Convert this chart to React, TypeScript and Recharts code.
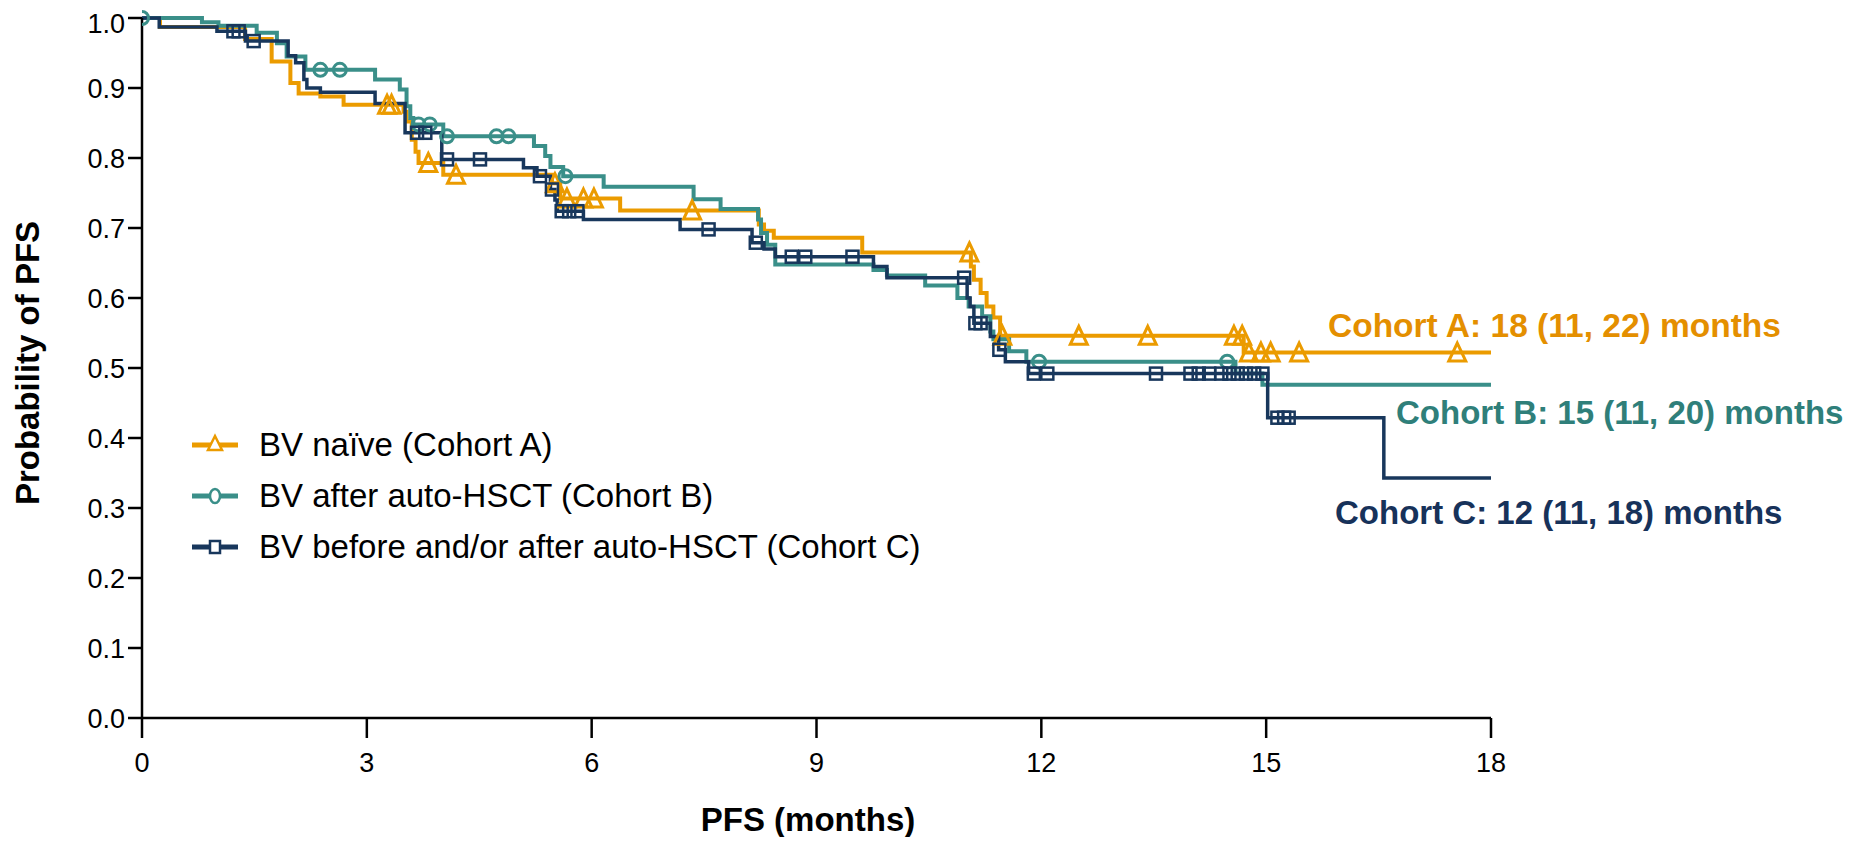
import React from 'react';
import { ComposedChart, Line, Scatter, XAxis, YAxis } from 'recharts';

// Kaplan-Meier steps (months, probability of PFS)
const cohortATimes = [0, 0.24, 1.375, 1.73, 1.98, 2.09, 2.38, 2.69, 3.49, 3.53, 3.6, 3.65, 3.69, 4.02, 5.47, 5.58, 6.38, 8.23, 8.3, 8.43, 9.61, 11.06, 11.1, 11.19, 11.27, 11.36, 11.45, 14.7, 18];
const cohortASurv = [1, 0.987, 0.97, 0.938, 0.907, 0.892, 0.888, 0.876, 0.866, 0.852, 0.826, 0.809, 0.793, 0.776, 0.764, 0.742, 0.725, 0.705, 0.696, 0.686, 0.665, 0.645, 0.626, 0.607, 0.588, 0.572, 0.546, 0.522, 0.522];
const cohortACensored = [3.27, 3.33, 3.82, 4.19, 5.51, 5.67, 5.89, 6.03, 7.34, 11.04, 11.48, 12.5, 13.42, 14.57, 14.68, 14.77, 14.93, 15.06, 15.44, 17.55];

const cohortBTimes = [0, 0.8, 1.02, 1.53, 1.8, 1.93, 2.18, 3.11, 3.44, 3.53, 3.58, 3.62, 4.02, 5.23, 5.38, 5.45, 5.62, 6.16, 7.36, 7.72, 8.22, 8.26, 8.34, 8.45, 9.76, 9.94, 10.45, 10.88, 11.03, 11.21, 11.32, 11.36, 11.57, 11.8, 14.59, 14.95, 18];
const cohortBSurv = [1, 0.994, 0.989, 0.979, 0.964, 0.945, 0.926, 0.912, 0.898, 0.874, 0.857, 0.848, 0.831, 0.817, 0.803, 0.787, 0.774, 0.759, 0.741, 0.727, 0.712, 0.693, 0.676, 0.648, 0.64, 0.632, 0.618, 0.6, 0.588, 0.574, 0.552, 0.541, 0.524, 0.509, 0.492, 0.476, 0.476];
const cohortBCensored = [0, 2.38, 2.64, 3.69, 3.84, 4.07, 4.73, 4.89, 5.65, 11.97, 14.48];

const cohortCTimes = [0, 0.23, 1.0, 1.38, 1.95, 2.05, 2.16, 2.2, 2.38, 3.11, 3.51, 4.0, 5.09, 5.27, 5.45, 5.51, 5.54, 5.89, 7.18, 8.14, 8.3, 8.45, 9.76, 9.94, 11.01, 11.05, 11.1, 11.32, 11.43, 11.52, 11.83, 15.02, 16.57, 18];
const cohortCSurv = [1, 0.987, 0.981, 0.967, 0.946, 0.936, 0.912, 0.9, 0.894, 0.878, 0.836, 0.798, 0.786, 0.774, 0.755, 0.74, 0.724, 0.712, 0.698, 0.679, 0.67, 0.659, 0.645, 0.629, 0.6, 0.588, 0.564, 0.545, 0.526, 0.509, 0.492, 0.429, 0.343, 0.343];
const cohortCCensored = [1.22, 1.29, 1.49, 3.67, 3.78, 4.07, 4.51, 5.31, 5.47, 5.6, 5.7, 5.81, 7.56, 8.19, 8.67, 8.85, 9.48, 10.97, 11.12, 11.19, 11.44, 11.9, 12.08, 13.53, 13.99, 14.1, 14.24, 14.4, 14.51, 14.62, 14.73, 14.84, 14.95, 15.15, 15.24, 15.3];

const xTicks = [0, 3, 6, 9, 12, 15, 18];
const yTicks = [0, 0.1, 0.2, 0.3, 0.4, 0.5, 0.6, 0.7, 0.8, 0.9, 1.0];

const ORANGE = '#EB9B00';
const TEAL = '#3A8F89';
const NAVY = '#18375C';
const FONT = '"Liberation Sans", Arial, Helvetica, sans-serif';

const toSteps = (times: number[], surv: number[]) => times.map((t, i) => ({ t, v: surv[i] }));

const survAt = (times: number[], surv: number[], t: number) => {
  let v = surv[0];
  for (let i = 0; i < times.length; i++) if (times[i] <= t) v = surv[i];
  return v;
};

const toCensors = (cens: number[], times: number[], surv: number[]) =>
  cens.map((t) => ({ t, v: survAt(times, surv, t) }));

const stepsA = toSteps(cohortATimes, cohortASurv);
const stepsB = toSteps(cohortBTimes, cohortBSurv);
const stepsC = toSteps(cohortCTimes, cohortCSurv);
const censA = toCensors(cohortACensored, cohortATimes, cohortASurv);
const censB = toCensors(cohortBCensored, cohortBTimes, cohortBSurv);
const censC = toCensors(cohortCCensored, cohortCTimes, cohortCSurv);

const Triangle = ({ cx, cy }: any) => (
  <path d={`M${cx},${cy - 9.5} L${cx + 8.5},${cy + 8.5} L${cx - 8.5},${cy + 8.5} Z`} fill="none" stroke={ORANGE} strokeWidth={3} />
);
const Circle = ({ cx, cy }: any) => <circle cx={cx} cy={cy} r={6.5} fill="none" stroke={TEAL} strokeWidth={3} />;
const Square = ({ cx, cy }: any) => (
  <rect x={cx - 6} y={cy - 6} width={12} height={12} fill="none" stroke={NAVY} strokeWidth={2.5} />
);

const legendItems = [
  { label: 'BV naïve (Cohort A)', color: ORANGE, kind: 'tri' },
  { label: 'BV after auto-HSCT (Cohort B)', color: TEAL, kind: 'circ' },
  { label: 'BV before and/or after auto-HSCT (Cohort C)', color: NAVY, kind: 'sq' },
];

const LegendIcon = ({ kind, color }: { kind: string; color: string }) => (
  <svg width={50} height={26} style={{ display: 'block' }}>
    <line x1={2} y1={13} x2={48} y2={13} stroke={color} strokeWidth={5} />
    {kind === 'tri' && <path d="M25,4 L32,18 L18,18 Z" fill="white" stroke={color} strokeWidth={2.5} />}
    {kind === 'circ' && <ellipse cx={25} cy={13} rx={5} ry={7} fill="white" stroke={color} strokeWidth={2.5} />}
    {kind === 'sq' && <rect x={20} y={7} width={10} height={12} fill="white" stroke={color} strokeWidth={2.5} />}
  </svg>
);

const axisStroke = { stroke: '#000', strokeWidth: 2.5 };

export default function App() {
  return (
    <div style={{ position: 'relative', width: 1847, height: 829, fontFamily: FONT }}>
      <ComposedChart width={1847} height={829} margin={{ top: 10, right: 364, bottom: 0, left: 0 }}>
        <XAxis
          dataKey="t"
          type="number"
          domain={[0, 18]}
          ticks={xTicks}
          allowDataOverflow
          height={119}
          tickSize={20}
          tickMargin={15}
          axisLine={axisStroke}
          tickLine={axisStroke}
          tick={{ fill: '#000', fontSize: 27, fontFamily: FONT }}
        />
        <YAxis
          dataKey="v"
          type="number"
          domain={[0, 1]}
          ticks={yTicks}
          width={134}
          tickSize={14}
          tickMargin={3}
          tickFormatter={(v: number) => v.toFixed(1)}
          axisLine={axisStroke}
          tickLine={axisStroke}
          tick={{ fill: '#000', fontSize: 27, fontFamily: FONT }}
        />
        <Line data={stepsA} dataKey="v" type="stepAfter" stroke={ORANGE} strokeWidth={4} dot={false} isAnimationActive={false} />
        <Line data={stepsB} dataKey="v" type="stepAfter" stroke={TEAL} strokeWidth={4} dot={false} isAnimationActive={false} />
        <Line data={stepsC} dataKey="v" type="stepAfter" stroke={NAVY} strokeWidth={3.5} dot={false} isAnimationActive={false} />
        <Scatter data={censA} dataKey="v" shape={<Triangle />} isAnimationActive={false} />
        <Scatter data={censB} dataKey="v" shape={<Circle />} isAnimationActive={false} />
        <Scatter data={censC} dataKey="v" shape={<Square />} isAnimationActive={false} />
      </ComposedChart>

      <div
        style={{
          position: 'absolute', left: 19, top: 355, transform: 'translate(-50%, -50%) rotate(-90deg)',
          fontSize: 33, fontWeight: 'bold', whiteSpace: 'nowrap', lineHeight: 1,
        }}
      >
        Probability of PFS
      </div>
      <div
        style={{
          position: 'absolute', left: 800, top: 795, transform: 'translateX(-50%)',
          fontSize: 33, fontWeight: 'bold', whiteSpace: 'nowrap', lineHeight: 1,
        }}
      >
        PFS (months)
      </div>

      <div style={{ position: 'absolute', left: 1320, top: 301, fontSize: 33.5, fontWeight: 'bold', color: '#E48F00', whiteSpace: 'nowrap', lineHeight: 1 }}>
        Cohort A: 18 (11, 22) months
      </div>
      <div style={{ position: 'absolute', left: 1388, top: 388, fontSize: 33, fontWeight: 'bold', color: '#2F7F7A', whiteSpace: 'nowrap', lineHeight: 1 }}>
        Cohort B: 15 (11, 20) months
      </div>
      <div style={{ position: 'absolute', left: 1327, top: 488, fontSize: 33, fontWeight: 'bold', color: '#17325A', whiteSpace: 'nowrap', lineHeight: 1 }}>
        Cohort C: 12 (11, 18) months
      </div>

      <div style={{ position: 'absolute', left: 182, top: 411 }}>
        {legendItems.map((it) => (
          <div key={it.label} style={{ display: 'flex', alignItems: 'center', height: 51 }}>
            <LegendIcon kind={it.kind} color={it.color} />
            <span style={{ marginLeft: 19, fontSize: 33, color: '#000', whiteSpace: 'nowrap' }}>{it.label}</span>
          </div>
        ))}
      </div>
    </div>
  );
}
